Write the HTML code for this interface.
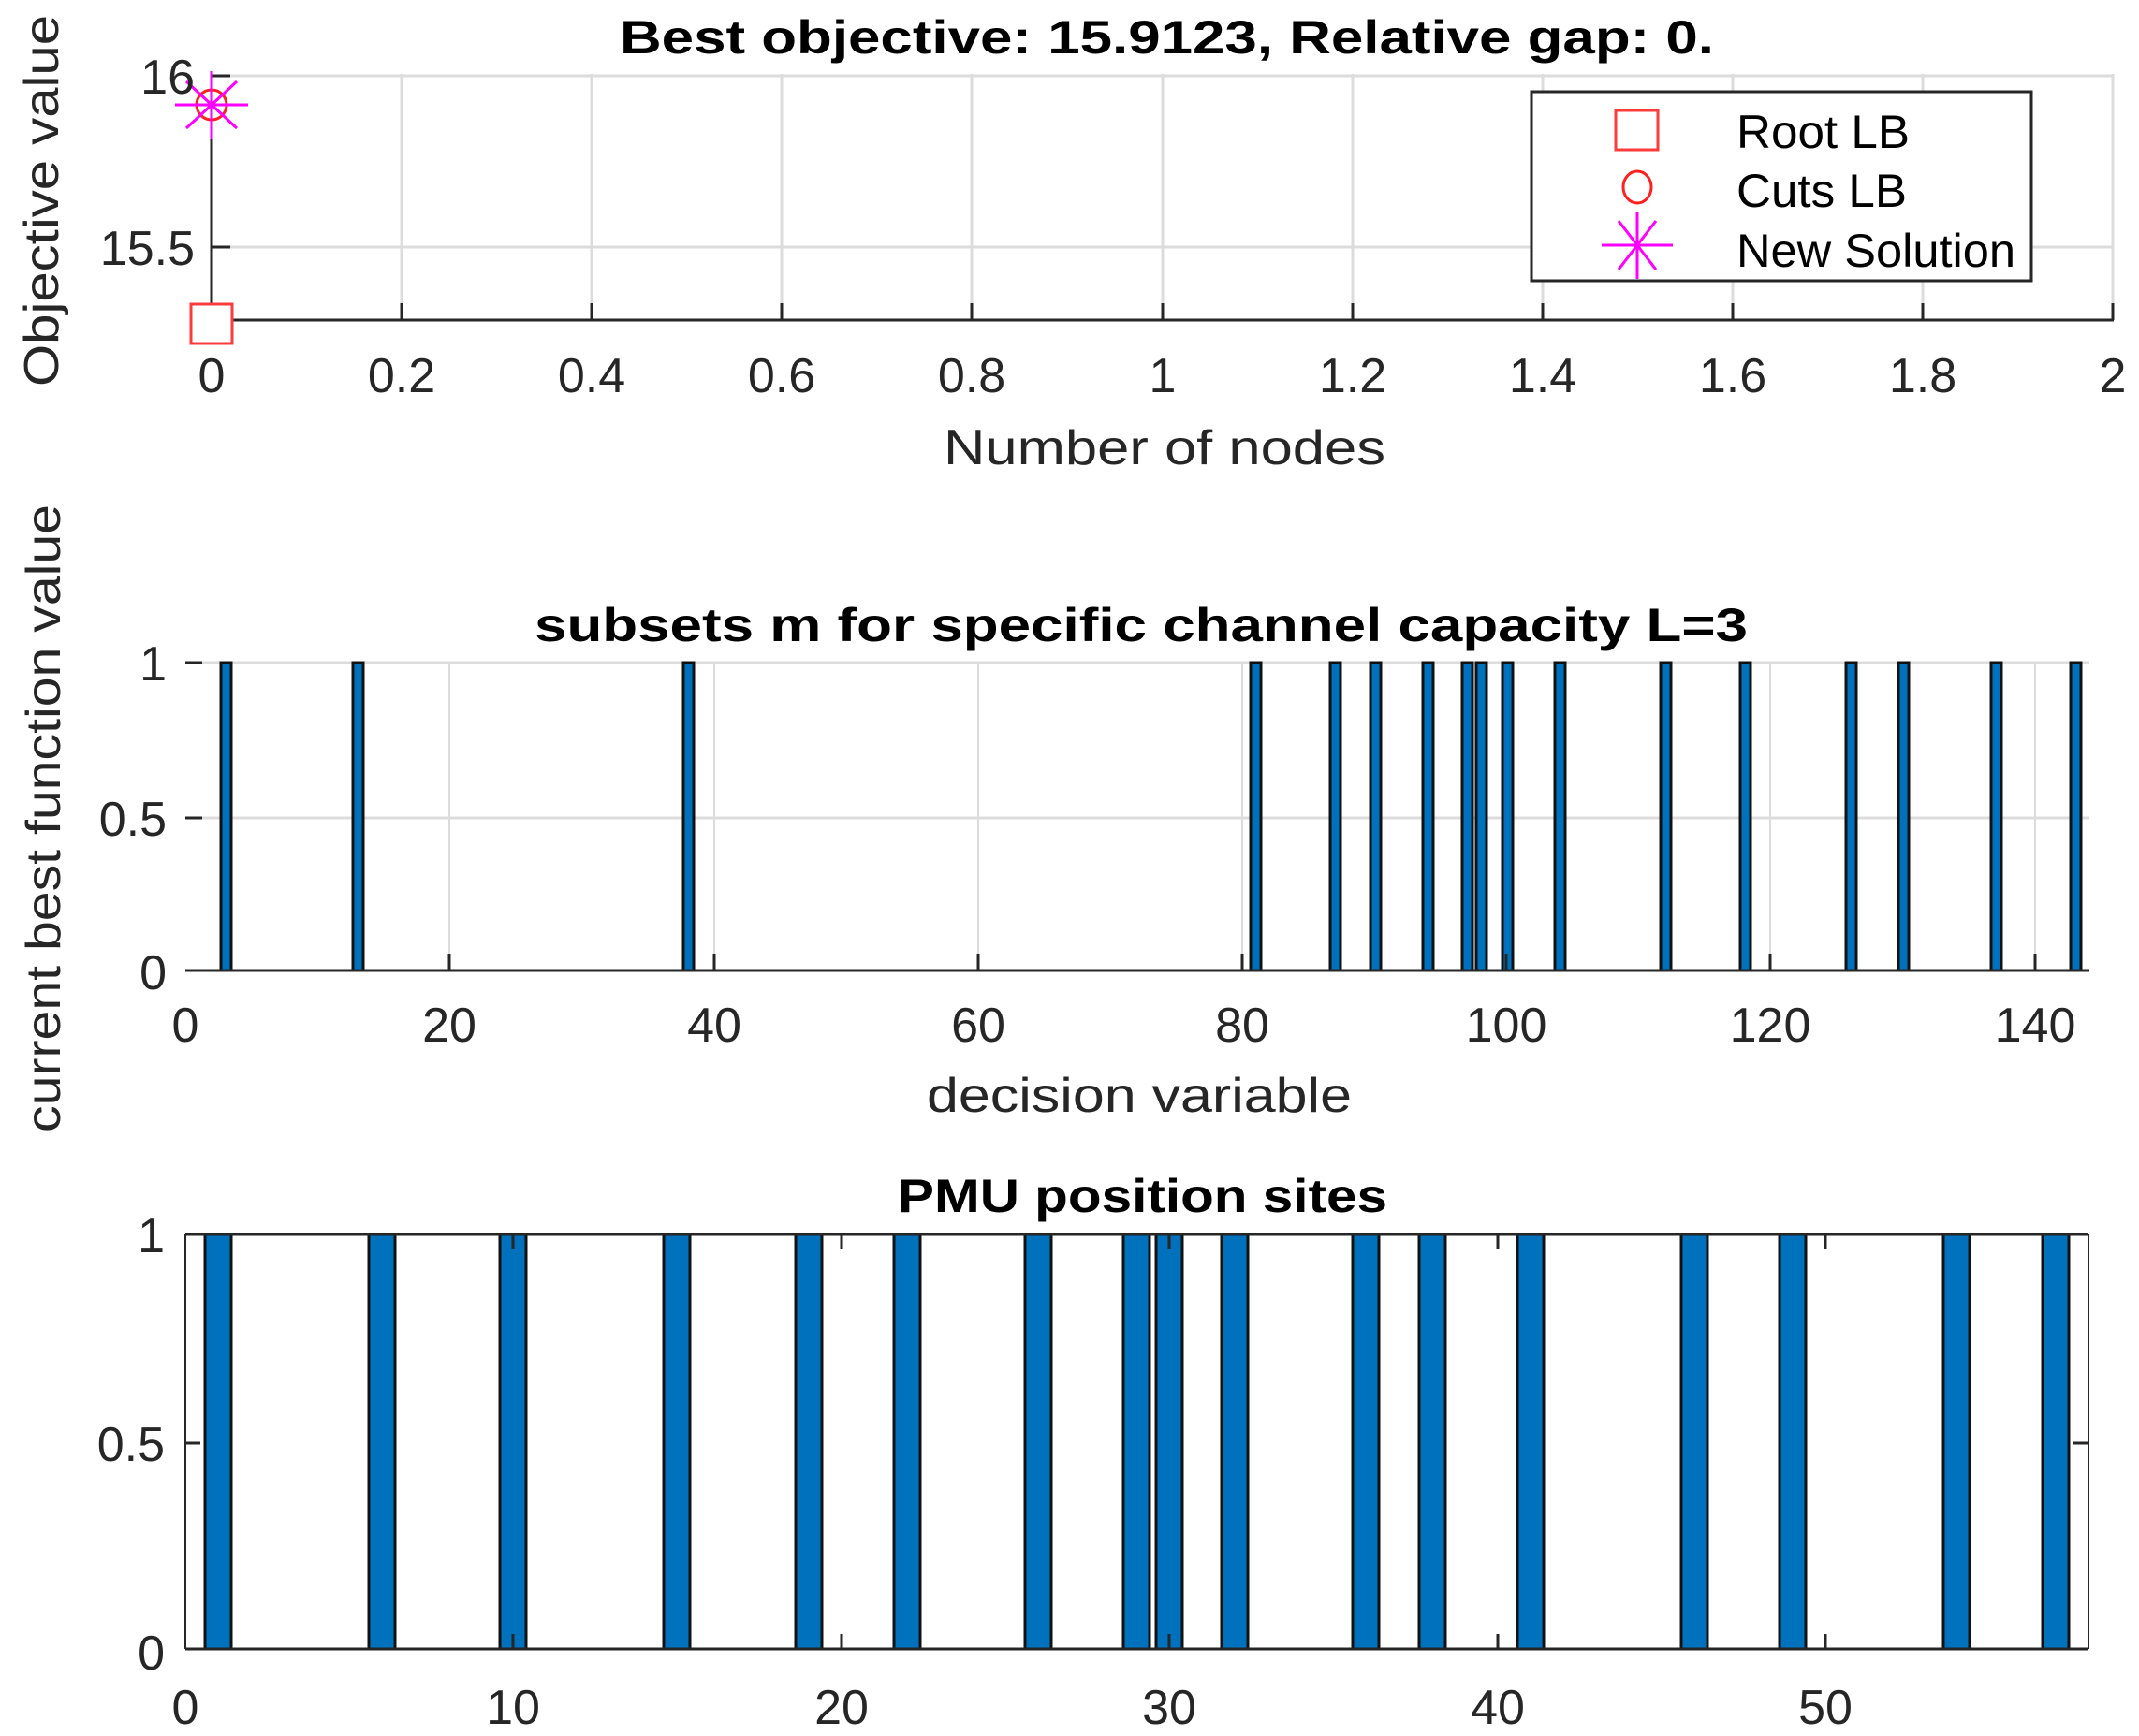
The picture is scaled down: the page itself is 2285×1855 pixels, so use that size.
<!DOCTYPE html>
<html><head><meta charset="utf-8"><style>html,body{margin:0;padding:0;background:#fff}svg{display:block}</style></head>
<body>
<svg width="2285" height="1855" viewBox="0 0 2285 1855" xmlns="http://www.w3.org/2000/svg" font-family="Liberation Sans, Arial, sans-serif">
<rect width="2285" height="1855" fill="#fff"/>
<!-- ===== TOP PLOT ===== -->
<g stroke="#dcdcdc" stroke-width="3">
<line x1="226" y1="81" x2="2257" y2="81"/><line x1="226" y1="264" x2="2257" y2="264"/>
<line x1="429" y1="79" x2="429" y2="342"/><line x1="632" y1="79" x2="632" y2="342"/><line x1="835" y1="79" x2="835" y2="342"/><line x1="1038" y1="79" x2="1038" y2="342"/><line x1="1242" y1="79" x2="1242" y2="342"/><line x1="1445" y1="79" x2="1445" y2="342"/><line x1="1648" y1="79" x2="1648" y2="342"/><line x1="1851" y1="79" x2="1851" y2="342"/><line x1="2054" y1="79" x2="2054" y2="342"/><line x1="2257" y1="79" x2="2257" y2="342"/>
</g>
<g stroke="#262626" stroke-width="3">
<line x1="226" y1="342" x2="2258" y2="342"/><line x1="226" y1="76" x2="226" y2="342"/>
<line x1="226" y1="81" x2="246" y2="81"/><line x1="226" y1="264" x2="246" y2="264"/>
<line x1="429" y1="324" x2="429" y2="342"/><line x1="632" y1="324" x2="632" y2="342"/><line x1="835" y1="324" x2="835" y2="342"/><line x1="1038" y1="324" x2="1038" y2="342"/><line x1="1242" y1="324" x2="1242" y2="342"/><line x1="1445" y1="324" x2="1445" y2="342"/><line x1="1648" y1="324" x2="1648" y2="342"/><line x1="1851" y1="324" x2="1851" y2="342"/><line x1="2054" y1="324" x2="2054" y2="342"/><line x1="2257" y1="324" x2="2257" y2="342"/>
</g>
<rect x="204" y="325" width="44" height="42" fill="#fff" stroke="#ff3b3b" stroke-width="3"/>
<circle cx="226" cy="112" r="16" fill="none" stroke="#ff2020" stroke-width="3"/>
<g stroke="#ff00ff" stroke-width="3"><line x1="187" y1="112" x2="265" y2="112"/><line x1="226" y1="76" x2="226" y2="148"/><line x1="199" y1="87" x2="253" y2="137"/><line x1="199" y1="137" x2="253" y2="87"/></g>
<g fill="#262626" font-size="52">
<text x="208" y="100" text-anchor="end">16</text>
<text x="208" y="283" text-anchor="end">15.5</text>
<g text-anchor="middle">
<text x="226" y="419">0</text><text x="429" y="419">0.2</text><text x="632" y="419">0.4</text><text x="835" y="419">0.6</text><text x="1038" y="419">0.8</text><text x="1242" y="419">1</text><text x="1445" y="419">1.2</text><text x="1648" y="419">1.4</text><text x="1851" y="419">1.6</text><text x="2054" y="419">1.8</text><text x="2257" y="419">2</text>
</g>
<text x="1008" y="496" textLength="472" lengthAdjust="spacingAndGlyphs">Number of nodes</text>
<text transform="translate(62,413) rotate(-90)" textLength="397" lengthAdjust="spacingAndGlyphs">Objective value</text>
</g>
<text x="662" y="57" font-size="50" font-weight="bold" fill="#000" textLength="1169" lengthAdjust="spacingAndGlyphs">Best objective: 15.9123, Relative gap: 0.</text>
<!-- legend -->
<rect x="1636" y="98" width="534" height="202" fill="#fff" stroke="#262626" stroke-width="3"/>
<rect x="1726" y="118" width="45" height="42" fill="none" stroke="#ff3b3b" stroke-width="3"/>
<ellipse cx="1749" cy="200" rx="15" ry="17" fill="none" stroke="#ff2020" stroke-width="3"/>
<g stroke="#ff00ff" stroke-width="3"><line x1="1711" y1="262" x2="1787" y2="262"/><line x1="1749" y1="226" x2="1749" y2="298"/><line x1="1729" y1="236" x2="1769" y2="288"/><line x1="1729" y1="288" x2="1769" y2="236"/></g>
<g fill="#000" font-size="50">
<text x="1855" y="158" textLength="185" lengthAdjust="spacingAndGlyphs">Root LB</text>
<text x="1855" y="221" textLength="182" lengthAdjust="spacingAndGlyphs">Cuts LB</text>
<text x="1855" y="285" textLength="298" lengthAdjust="spacingAndGlyphs">New Solution</text>
</g>
<!-- ===== MIDDLE PLOT ===== -->
<g stroke="#dcdcdc" stroke-width="2">
<line x1="198" y1="708" x2="2232" y2="708" stroke-width="3"/><line x1="198" y1="874" x2="2232" y2="874" stroke-width="3"/>
<line x1="480" y1="708" x2="480" y2="1037"/><line x1="763" y1="708" x2="763" y2="1037"/><line x1="1045" y1="708" x2="1045" y2="1037"/><line x1="1327" y1="708" x2="1327" y2="1037"/><line x1="1609" y1="708" x2="1609" y2="1037"/><line x1="1891" y1="708" x2="1891" y2="1037"/><line x1="2174" y1="708" x2="2174" y2="1037"/>
</g>
<g fill="#0072bd" stroke="#111" stroke-width="3">
<rect x="236" y="708" width="11" height="329"/><rect x="377" y="708" width="11" height="329"/><rect x="730" y="708" width="11" height="329"/><rect x="1336" y="708" width="11" height="329"/><rect x="1421" y="708" width="11" height="329"/><rect x="1464" y="708" width="11" height="329"/><rect x="1520" y="708" width="11" height="329"/><rect x="1562" y="708" width="11" height="329"/><rect x="1577" y="708" width="11" height="329"/><rect x="1605" y="708" width="11" height="329"/><rect x="1661" y="708" width="11" height="329"/><rect x="1774" y="708" width="11" height="329"/><rect x="1859" y="708" width="11" height="329"/><rect x="1972" y="708" width="11" height="329"/><rect x="2028" y="708" width="11" height="329"/><rect x="2127" y="708" width="11" height="329"/><rect x="2212" y="708" width="11" height="329"/>
</g>
<g stroke="#262626" stroke-width="3">
<line x1="198" y1="1037" x2="2232" y2="1037"/>
<line x1="198" y1="708" x2="216" y2="708"/><line x1="198" y1="874" x2="216" y2="874"/>
<line x1="480" y1="1019" x2="480" y2="1037"/><line x1="763" y1="1019" x2="763" y2="1037"/><line x1="1045" y1="1019" x2="1045" y2="1037"/><line x1="1327" y1="1019" x2="1327" y2="1037"/><line x1="1609" y1="1019" x2="1609" y2="1037"/><line x1="1891" y1="1019" x2="1891" y2="1037"/><line x1="2174" y1="1019" x2="2174" y2="1037"/>
</g>
<g fill="#262626" font-size="52">
<text x="178" y="727" text-anchor="end">1</text>
<text x="178" y="893" text-anchor="end">0.5</text>
<text x="178" y="1057" text-anchor="end">0</text>
<g text-anchor="middle">
<text x="198" y="1113">0</text><text x="480" y="1113">20</text><text x="763" y="1113">40</text><text x="1045" y="1113">60</text><text x="1327" y="1113">80</text><text x="1609" y="1113">100</text><text x="1891" y="1113">120</text><text x="2174" y="1113">140</text>
</g>
<text x="990" y="1188" textLength="454" lengthAdjust="spacingAndGlyphs">decision variable</text>
<text transform="translate(64,1210) rotate(-90)" textLength="671" lengthAdjust="spacingAndGlyphs">current best function value</text>
</g>
<text x="571" y="685" font-size="50" font-weight="bold" fill="#000" textLength="1296" lengthAdjust="spacingAndGlyphs">subsets m for specific channel capacity L=3</text>
<!-- ===== BOTTOM PLOT ===== -->
<g fill="#0072bd" stroke="#111" stroke-width="3">
<rect x="219" y="1319" width="28" height="443"/><rect x="394" y="1319" width="28" height="443"/><rect x="534" y="1319" width="28" height="443"/><rect x="709" y="1319" width="28" height="443"/><rect x="850" y="1319" width="28" height="443"/><rect x="955" y="1319" width="28" height="443"/><rect x="1095" y="1319" width="28" height="443"/><rect x="1200" y="1319" width="28" height="443"/><rect x="1235" y="1319" width="28" height="443"/><rect x="1305" y="1319" width="28" height="443"/><rect x="1445" y="1319" width="28" height="443"/><rect x="1516" y="1319" width="28" height="443"/><rect x="1621" y="1319" width="28" height="443"/><rect x="1796" y="1319" width="28" height="443"/><rect x="1901" y="1319" width="28" height="443"/><rect x="2076" y="1319" width="28" height="443"/><rect x="2182" y="1319" width="28" height="443"/>
</g>
<g stroke="#262626" stroke-width="3" fill="none">
<line x1="198" y1="1319" x2="2231" y2="1319"/><line x1="198" y1="1762" x2="2231" y2="1762"/>
<line x1="198" y1="1319" x2="198" y2="1762" stroke-width="2"/><line x1="2231" y1="1319" x2="2231" y2="1762" stroke-width="2"/>
<line x1="198" y1="1542" x2="214" y2="1542"/><line x1="2215" y1="1542" x2="2231" y2="1542"/>
<line x1="548" y1="1319" x2="548" y2="1335"/><line x1="899" y1="1319" x2="899" y2="1335"/><line x1="1249" y1="1319" x2="1249" y2="1335"/><line x1="1600" y1="1319" x2="1600" y2="1335"/><line x1="1950" y1="1319" x2="1950" y2="1335"/>
<line x1="548" y1="1746" x2="548" y2="1762"/><line x1="899" y1="1746" x2="899" y2="1762"/><line x1="1249" y1="1746" x2="1249" y2="1762"/><line x1="1600" y1="1746" x2="1600" y2="1762"/><line x1="1950" y1="1746" x2="1950" y2="1762"/>
</g>
<g fill="#262626" font-size="52">
<text x="176" y="1338" text-anchor="end">1</text>
<text x="176" y="1561" text-anchor="end">0.5</text>
<text x="176" y="1784" text-anchor="end">0</text>
<g text-anchor="middle">
<text x="198" y="1842">0</text><text x="548" y="1842">10</text><text x="899" y="1842">20</text><text x="1249" y="1842">30</text><text x="1600" y="1842">40</text><text x="1950" y="1842">50</text>
</g>
</g>
<text x="959" y="1295" font-size="50" font-weight="bold" fill="#000" textLength="523" lengthAdjust="spacingAndGlyphs">PMU position sites</text>
</svg>
</body></html>
